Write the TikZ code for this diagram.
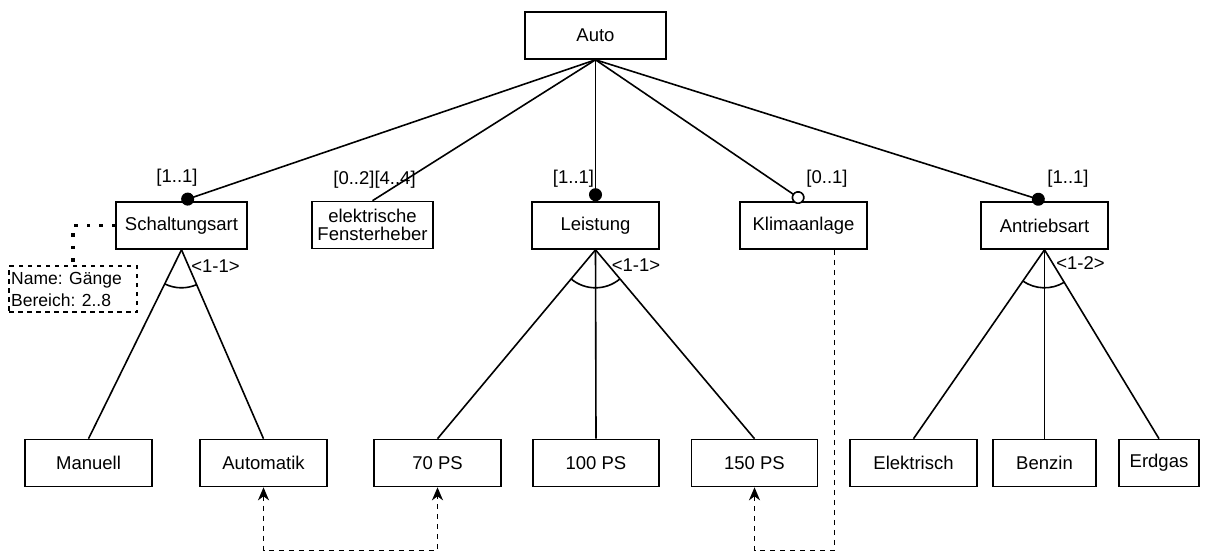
\documentclass[tikz,border=0pt]{standalone}
\usepackage{fontspec}
\setmainfont{Liberation Sans}
\usetikzlibrary{arrows.meta,calc}
\tikzset{
  box/.style={draw, line width=1.6pt, rectangle, inner sep=0pt, minimum height=47pt, align=center},
  lbl/.style={inner sep=0pt},
  conn/.style={line width=1.6pt},
  mand/.style={conn, -{Circle[length=13pt]}},
  opt/.style={conn, -{Circle[open,length=13pt,fill=white]}},
  dotline/.style={line width=3.5pt, dash pattern=on 3.5pt off 9pt},
  notebox/.style={draw, line width=1.5pt, dash pattern=on 4.5pt off 4.5pt, rectangle, inner sep=0pt, minimum width=128pt, minimum height=46pt},
  dasharrow/.style={line width=1.6pt, dash pattern=on 5pt off 5pt, -{Stealth[length=13pt,width=11pt,inset=4pt]}},
  dasharrows/.style={line width=1.6pt, dash pattern=on 5pt off 5pt, {Stealth[length=13pt,width=11pt,inset=4pt]}-{Stealth[length=13pt,width=11pt,inset=4pt]}},
}
\newcommand\grouparc[3]{%
  \draw[conn] let \p1=($(#2.north)-(#1.south)$), \p2=($(#3.north)-(#1.south)$),
    \n1={atan2(\y1,\x1)}, \n2={atan2(\y2,\x2)} in
    ($(#1.south)+(\n1:38pt)$) arc[start angle=\n1, end angle=\n2, radius=38pt];}
\begin{document}
\begin{tikzpicture}[x=1pt, y=-1pt, font=\fontsize{18.5}{22}\selectfont]
\useasboundingbox (0,0) rectangle (1209,552);
% top
\node[box, minimum width=141pt] (A) at (595.5,35.5) {Auto};
% level 1
\node[box, minimum width=131pt] (S) at (181.5,225.5) {Schaltungsart};
\node[box, minimum width=121pt, font=\fontsize{18.5}{18}\selectfont] (F) at (372.5,225) {elektrische\\Fensterheber};
\node[box, minimum width=127pt] (L) at (595.5,225.5) {Leistung};
\node[box, minimum width=127pt] (K) at (803.5,225.5) {Klimaanlage};
\node[box, minimum width=127pt] (R) at (1044.5,225.5) {Antriebsart};
% level 2
\node[box, minimum width=127pt] (M) at (88.5,463) {Manuell};
\node[box, minimum width=127pt] (Au) at (263.5,463) {Automatik};
\node[box, minimum width=127pt] (P70) at (437.5,463) {70 PS};
\node[box, minimum width=126pt] (P100) at (596,463) {100 PS};
\node[box, minimum width=126pt] (P150) at (754.5,463) {150 PS};
\node[box, minimum width=127pt] (E) at (913.5,463) {Elektrisch};
\node[box, minimum width=103pt] (B) at (1044.5,463) {Benzin};
\node[box, minimum width=80pt] (G) at (1159,463) {Erdgas};
% note
\node[notebox] (N) at (73,289) {};
\node[lbl, anchor=west, align=left, font=\fontsize{17.5}{22}\selectfont] (NT) at (11,289) {Name: Gänge\\Bereich: 2..8};
% connectors from Auto
\draw[mand] (A.south) -- (S.north);
\draw[conn] (A.south) -- (F.north);
\draw[mand] (A.south) -- (L.north);
\draw[opt] (A.south) -- (K.north);
\draw[mand] (A.south) -- (R.north);
% cardinality labels
\node[lbl] (c1) at (177,178) {[1..1]};
\node[lbl] (c2) at (374.5,180) {[0..2][4..4]};
\node[lbl] (c3) at (573.5,179) {[1..1]};
\node[lbl] (c4) at (827,179) {[0..1]};
\node[lbl] (c5) at (1068,179) {[1..1]};
% group children
\draw[conn] (S.south) -- (M.north);
\draw[conn] (S.south) -- (Au.north);
\draw[conn] (L.south) -- (P70.north);
\draw[conn] (L.south) -- (P100.north);
\draw[conn] (L.south) -- (P150.north);
\draw[conn] (R.south) -- (E.north);
\draw[conn] (R.south) -- (B.north);
\draw[conn] (R.south) -- (G.north);
\grouparc{S}{M}{Au}
\grouparc{L}{P70}{P150}
\grouparc{R}{E}{G}
\node[lbl] (g1) at (215.5,266) {<1-1>};
\node[lbl] (g2) at (636,265) {<1-1>};
\node[lbl] (g3) at (1080.5,263) {<1-2>};
% dotted note link
\draw[dotline] (S.west) -| (N.north);
% dashed constraints
\draw[dasharrows] (Au.south) |- ($(P70.south)+(0,63)$) -- (P70.south);
\coordinate (Kout) at ($(K.south)!0.48!(K.south east)$);
\draw[dasharrow] (Kout) |- ($(P150.south)+(0,63)$) -- (P150.south);
\end{tikzpicture}
\end{document}
